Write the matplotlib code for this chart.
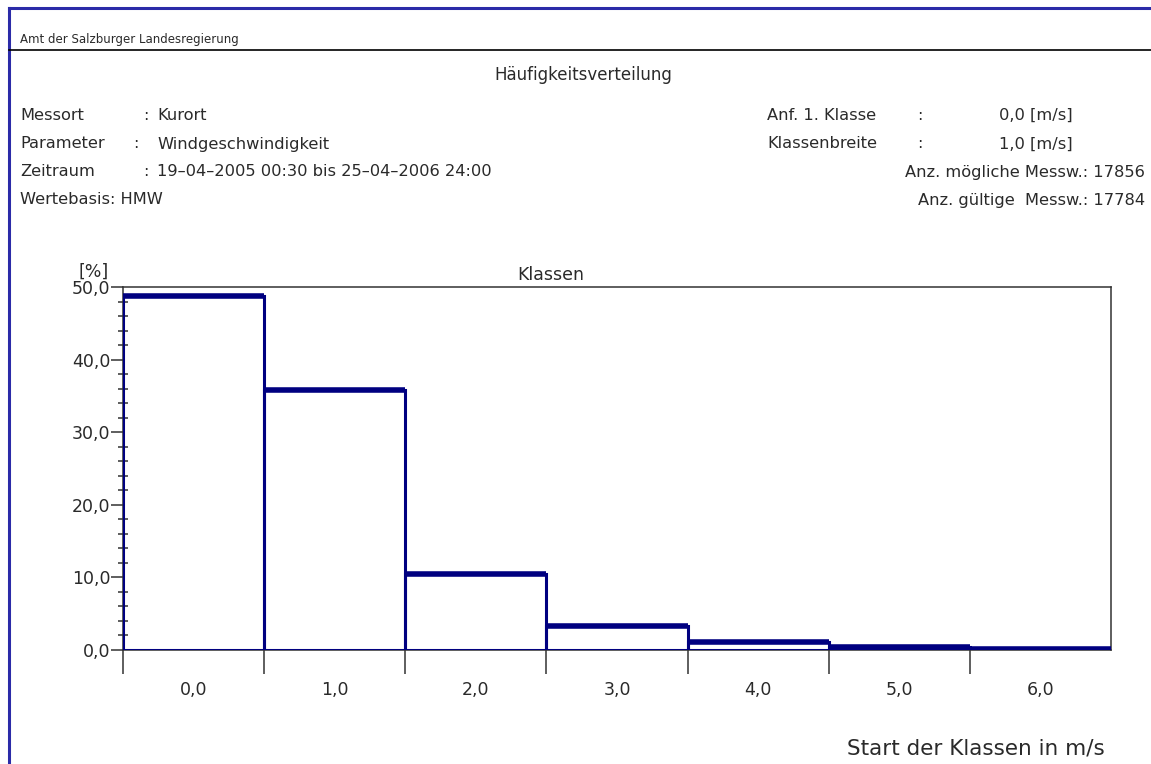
import numpy as np
import matplotlib
matplotlib.use("Agg")
import matplotlib.pyplot as plt
from matplotlib.ticker import FuncFormatter, MultipleLocator, FixedLocator

# Haeufigkeit je Klasse (Windgeschwindigkeit, Klassenbreite 1 m/s)
class_start = [0, 1, 2, 3, 4, 5, 6]
class_labels = ["0,0", "1,0", "2,0", "3,0", "4,0", "5,0", "6,0"]
percent = [48.7, 35.8, 10.5, 3.3, 1.1, 0.4, 0.2]

left_info = [("Messort", "Kurort"),
             ("Parameter", "Windgeschwindigkeit"),
             ("Zeitraum", "19\u201304\u20132005 00:30 bis 25\u201304\u20132006 24:00")]
right_info = [("Anf. 1. Klasse", "0,0 [m/s]"),
              ("Klassenbreite", "1,0 [m/s]")]
count_info = ["Anz. m\u00f6gliche Messw.: 17856",
              "Anz. g\u00fcltige  Messw.: 17784"]

txt = "#2a2a2a"
navy = "#000080"
fs = 11.7
plt.rcParams['font.family'] = 'DejaVu Sans'

W, H = 1151, 764
fig = plt.figure(figsize=(W / 100, H / 100), dpi=100)

def fx(px):
    return px / W

def fy(py):
    return 1 - py / H

# frame and header line
fig.add_artist(plt.Line2D([fx(9), fx(9)], [0, fy(8)], color="#2b2ba8", lw=2.2))
fig.add_artist(plt.Line2D([fx(9), 1], [fy(8), fy(8)], color="#2b2ba8", lw=2.2))
fig.add_artist(plt.Line2D([fx(9), 1], [fy(50), fy(50)], color="black", lw=1.2))

fig.text(fx(20), fy(40), "Amt der Salzburger Landesregierung", fontsize=8.5, color=txt, va="center")
fig.text(fx(583), fy(75), "H\u00e4ufigkeitsverteilung", fontsize=12, color=txt, va="center", ha="center")

ys = [115, 144, 172]
colon_x = [143, 133, 143]
for (lab, val), y, cx in zip(left_info, ys, colon_x):
    fig.text(fx(20), fy(y), lab, fontsize=fs, color=txt, va="center")
    fig.text(fx(cx), fy(y), ":", fontsize=fs, color=txt, va="center")
    fig.text(fx(157), fy(y), val, fontsize=fs, color=txt, va="center")
fig.text(fx(20), fy(200), "Wertebasis: HMW", fontsize=fs, color=txt, va="center")

for (lab, val), y in zip(right_info, ys[:2]):
    fig.text(fx(767), fy(y), lab, fontsize=fs, color=txt, va="center")
    fig.text(fx(917), fy(y), ":", fontsize=fs, color=txt, va="center")
    fig.text(fx(1073), fy(y), val, fontsize=fs, color=txt, va="center", ha="right")
for s, y in zip(count_info, [172, 200]):
    fig.text(fx(1145), fy(y), s, fontsize=fs, color=txt, va="center", ha="right")

ax = fig.add_axes([fx(123), fy(650), fx(1111) - fx(123), fy(287) - fy(650)])

ax.bar(class_start, percent, width=1, align="edge", fill=False,
       edgecolor=navy, linewidth=2.2, zorder=3)
ax.hlines(percent, class_start, np.array(class_start) + 1, color=navy, lw=4, zorder=4)

ax.set_xlim(0, 7)
ax.set_ylim(0, 50)

for sp in ax.spines.values():
    sp.set_color("#333333")
    sp.set_linewidth(1.1)

ax.yaxis.set_major_locator(MultipleLocator(10))
ax.yaxis.set_minor_locator(MultipleLocator(2))
ax.yaxis.set_major_formatter(FuncFormatter(lambda v, p: f"{v:.1f}".replace(".", ",")))
ax.tick_params(axis="y", which="major", direction="out", length=9, width=1.1,
               color="#333333", labelsize=12.5, labelcolor=txt, pad=0)
ax.tick_params(axis="y", which="minor", direction="inout", length=7, width=1.1, color="#333333")

ax.xaxis.set_major_locator(FixedLocator(class_start))
ax.xaxis.set_major_formatter(FuncFormatter(lambda v, p: ""))
ax.xaxis.set_minor_locator(FixedLocator(np.array(class_start) + 0.5))
ax.set_xticklabels(class_labels, minor=True)
ax.tick_params(axis="x", which="major", direction="out", length=17, width=1.1, color="#333333")
ax.tick_params(axis="x", which="minor", length=0, labelsize=12.5, labelcolor=txt, pad=22)

ax.text(-0.03, 50.8, "[%]", fontsize=12.5, color=txt, ha="center", va="bottom",
        transform=ax.get_yaxis_transform())
ax.text(3.03, 50.4, "Klassen", fontsize=12.5, color=txt, ha="center", va="bottom")

fig.text(fx(1105), fy(748), "Start der Klassen in m/s", fontsize=15.5, color=txt,
         ha="right", va="center")

fig.savefig("out.png", dpi=100, facecolor="white")
